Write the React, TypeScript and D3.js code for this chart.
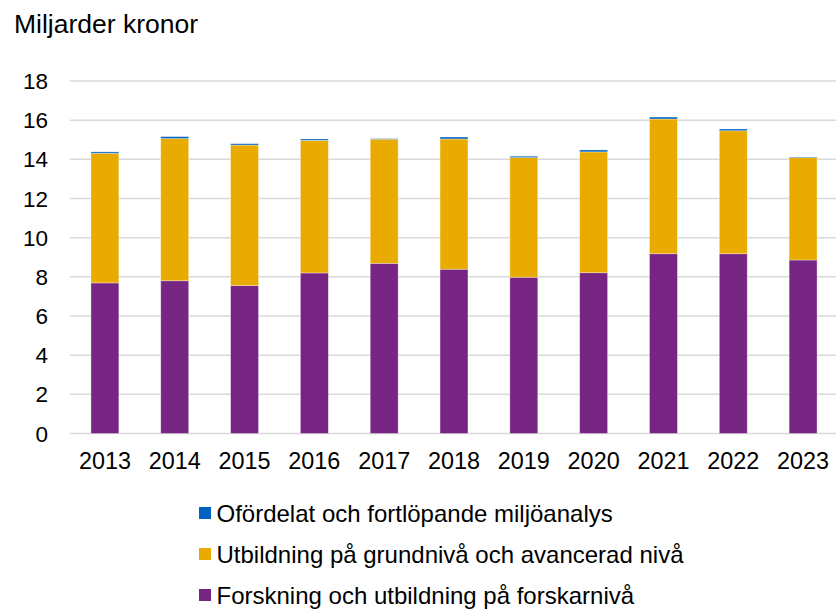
import React from "react";
import * as d3 from "d3";

const years = ["2013","2014","2015","2016","2017","2018","2019","2020","2021","2022","2023"];
const forskning = [7.69, 7.80, 7.55, 8.20, 8.69, 8.39, 7.98, 8.21, 9.18, 9.18, 8.86];
const utbildning = [6.62, 7.26, 7.18, 6.77, 6.34, 6.65, 6.11, 6.17, 6.88, 6.28, 5.23];
const ofordelat = [0.07, 0.10, 0.07, 0.07, 0.03, 0.10, 0.07, 0.10, 0.10, 0.09, 0.03];
const yTicks = [0, 2, 4, 6, 8, 10, 12, 14, 16, 18];

const seriesNames = [
  "Forskning och utbildning på forskarnivå",
  "Utbildning på grundnivå och avancerad nivå",
  "Ofördelat och fortlöpande miljöanalys",
];
const colors = ["#772583", "#EAAB00", "#0063BE"];

export default function App() {
  const W = 836, H = 610;
  const left = 70, right = 838, top = 81, bottom = 433.5;
  const x = d3.scaleBand().domain(years).range([left, right]).paddingInner(0.6).paddingOuter(0.3);
  const y = d3.scaleLinear().domain([0, 18]).range([bottom, top]);

  const rows = years.map((yr, i) => ({ year: yr, a: forskning[i], b: utbildning[i], c: ofordelat[i] }));
  const stack = d3.stack<any>().keys(["a", "b", "c"]);
  const layers = stack(rows);

  const font = "Arial, 'Liberation Sans', sans-serif";
  const legendOrder = [2, 1, 0];

  return (
    <svg width={W} height={H} style={{ position: "absolute", left: 0, top: 0 }} fontFamily={font}>
      <rect width={W} height={H} fill="#fff" />
      <text x={14} y={33} fontSize={26.5} fill="#000">Miljarder kronor</text>
      {yTicks.map((t) => (
        <g key={t}>
          <line x1={left} x2={W} y1={y(t)} y2={y(t)} stroke="#d9d9d9" strokeWidth={1.5} />
          <text x={48} y={y(t) + 8} fontSize={22.5} textAnchor="end" fill="#000">{t}</text>
        </g>
      ))}
      {layers.map((layer, li) => (
        <g key={li} fill={colors[li]}>
          {layer.map((d: any, i: number) => (
            <rect
              key={i}
              x={x(years[i])!}
              width={x.bandwidth()}
              y={y(d[1])}
              height={y(d[0]) - y(d[1])}
              stroke="rgba(255,255,255,0.45)"
              strokeWidth={0.75}
            />
          ))}
        </g>
      ))}
      {years.map((yr) => (
        <text key={yr} x={x(yr)! + x.bandwidth() / 2} y={469} fontSize={23.4} textAnchor="middle" fill="#000">{yr}</text>
      ))}
      {legendOrder.map((si, k) => (
        <g key={si} transform={`translate(199, ${507 + k * 41})`}>
          <rect x={0} y={0} width={12} height={12} fill={colors[si]} />
          <text x={17.5} y={14.8} fontSize={24} fill="#000">{seriesNames[si]}</text>
        </g>
      ))}
    </svg>
  );
}
